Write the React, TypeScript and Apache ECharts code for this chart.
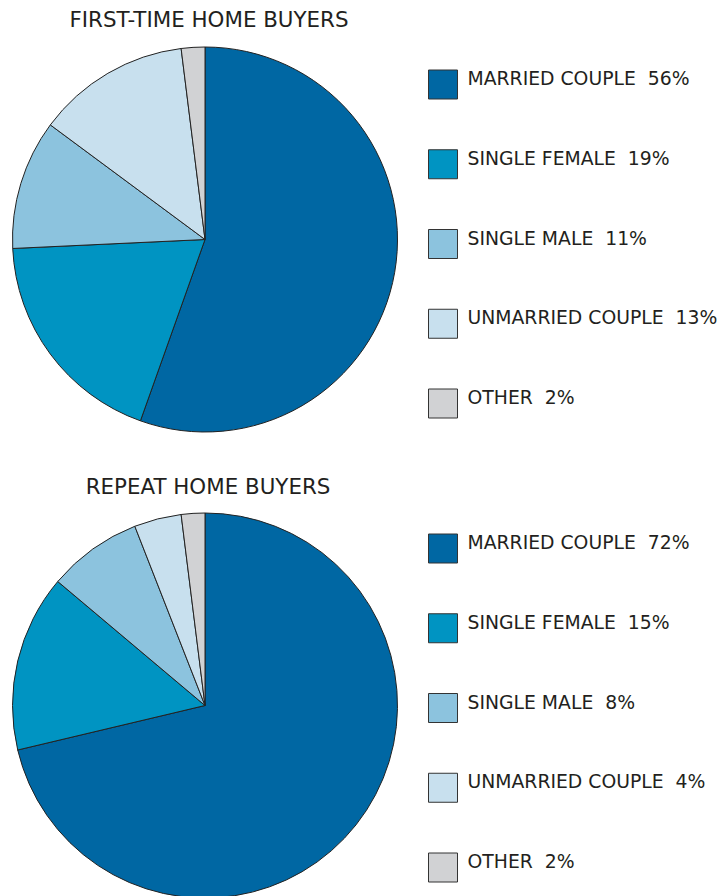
import React, { useEffect, useRef } from "react";
import * as echarts from "echarts";

const categories = ["MARRIED COUPLE", "SINGLE FEMALE", "SINGLE MALE", "UNMARRIED COUPLE", "OTHER"];
const firstTimeValues = [56, 19, 11, 13, 2];
const repeatValues = [72, 15, 8, 4, 2];
const colors = ["#0067a3", "#0094c2", "#8cc3de", "#c8e0ee", "#d1d2d4"];
const titles = ["FIRST-TIME HOME BUYERS", "REPEAT HOME BUYERS"];

const FONT = "'DejaVu Sans', 'Open Sans', sans-serif";

export default function App() {
  const ref = useRef<HTMLDivElement>(null);
  useEffect(() => {
    document.body.style.margin = "0";
    const chart = echarts.init(ref.current!, undefined, { renderer: "svg" });
    const mkData = (vals: number[]) =>
      categories.map((c, i) => ({ name: c, value: vals[i], itemStyle: { color: colors[i] } }));
    const mkLegend = (vals: number[], top: number) => ({
      orient: "vertical",
      left: 428,
      top,
      padding: 0,
      itemWidth: 29,
      itemHeight: 29,
      itemGap: 48.75,
      icon: "rect",
      selectedMode: false,
      data: categories,
      itemStyle: { borderColor: "#333333", borderWidth: 1 },
      formatter: (name: string) => `{t|${name}  ${vals[categories.indexOf(name)]}%}`,
      textStyle: {
        fontFamily: FONT,
        fontSize: 18.8,
        lineHeight: 15,
        color: "#231f20",
        rich: {
          t: {
            fontFamily: FONT,
            fontSize: 18.8,
            lineHeight: 15,
            color: "#231f20",
            padding: [0, 0, 12, 5],
          },
        },
      },
    });
    const mkPie = (vals: number[], cy: number) => ({
      type: "pie",
      center: [205, cy],
      radius: 192.5,
      startAngle: 90,
      clockwise: true,
      label: { show: false },
      labelLine: { show: false },
      emphasis: { disabled: true },
      itemStyle: { borderColor: "#222222", borderWidth: 1 },
      data: mkData(vals),
    });
    const titleStyle = { fontFamily: FONT, fontSize: 21.4, fontWeight: "normal", color: "#231f20" };
    chart.setOption({
      animation: false,
      title: [
        { text: titles[0], left: 204, top: 4, textAlign: "center", textStyle: titleStyle },
        { text: titles[1], left: 203, top: 471, textAlign: "center", textStyle: titleStyle },
      ],
      legend: [mkLegend(firstTimeValues, 69), mkLegend(repeatValues, 533)],
      series: [mkPie(firstTimeValues, 239.5), mkPie(repeatValues, 705.5)],
    });
    return () => chart.dispose();
  }, []);
  return <div ref={ref} style={{ width: 721, height: 896, background: "#fff" }} />;
}
